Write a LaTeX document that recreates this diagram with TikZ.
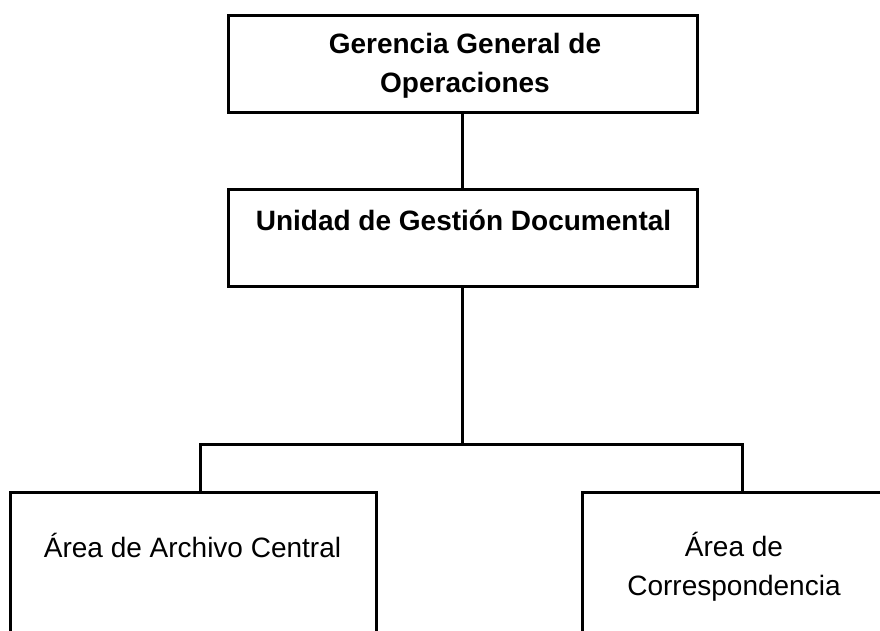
\documentclass[tikz,border=0pt]{standalone}
\usepackage{fontspec}
\setmainfont{Liberation Sans}
\begin{document}
\begin{tikzpicture}[x=1pt,y=-1pt,
  box/.style={draw=black, line width=3pt, rectangle, inner sep=0pt, fill=none},
  lbl/.style={inner sep=0pt, align=center, font=\fontsize{28}{39}\selectfont},
  blbl/.style={lbl, font=\fontsize{28}{39}\selectfont\bfseries},
  conn/.style={draw=black, line width=3pt}]
\clip (0,0) rectangle (880,630);
\fill[white] (0,0) rectangle (880,630);
% boxes
\node[box, minimum width=469pt, minimum height=97pt] (gg) at (462.5,63.5) {};
\node[box, minimum width=469pt, minimum height=97pt] (ug) at (462.5,237.5) {};
\node[box, minimum width=366pt, minimum height=208pt] (aa) at (193,596) {};
\node[box, minimum width=304pt, minimum height=208pt] (ac) at (734,596) {};
% texts (anchor=base is the baseline of the last line)
\node[blbl, anchor=base] (tgg) at (465,92) {Gerencia General de\\Operaciones};
\node[blbl, anchor=base] (tug) at (463.5,230) {Unidad de Gestión Documental};
\node[lbl, anchor=base] (taa) at (192.5,557) {Área de Archivo Central};
\node[lbl, anchor=base] (tac) at (734,595) {Área de\\Correspondencia};
% connectors
\coordinate (bl) at (200,444);
\coordinate (br) at (742,444);
\draw[conn] (gg.south) -- (ug.north);
\draw[conn] (ug.south) -- (ug.south |- bl);
\draw[conn] (bl |- aa.north) -- (bl) -- (br) -- (br |- ac.north);
\end{tikzpicture}
\end{document}
